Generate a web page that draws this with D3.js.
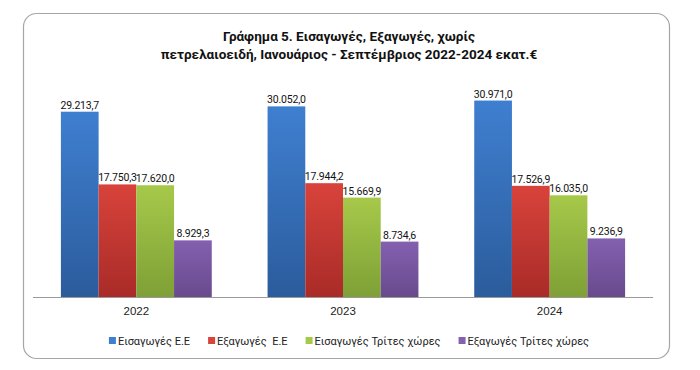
<!DOCTYPE html>
<html>
<head>
<meta charset="utf-8">
<script src="https://cdn.jsdelivr.net/npm/d3@7/dist/d3.min.js"></script>
<style>
  html, body { margin: 0; padding: 0; background: #fff; }
  svg { display: block; font-family: Roboto, 'Open Sans', sans-serif; }
  .title { font-weight: bold; font-size: 13.5px; fill: #111; }
  .val { font-size: 10.5px; fill: #111; letter-spacing: -0.2px; }
  .year { font-size: 11.5px; fill: #222; }
  .leg { font-size: 11px; fill: #222; white-space: pre; }
</style>
</head>
<body>
<svg id="chart" width="700" height="370"></svg>
<script>
// DATA
const years = ['2022', '2023', '2024'];
const seriesNames = ['Εισαγωγές Ε.Ε', 'Εξαγωγές  Ε.Ε', 'Εισαγωγές Τρίτες χώρες', 'Εξαγωγές Τρίτες χώρες'];
const importsEU = [29213.7, 30052.0, 30971.0];
const exportsEU = [17750.3, 17944.2, 17526.9];
const importsThird = [17620.0, 15669.9, 16035.0];
const exportsThird = [8929.3, 8734.6, 9236.9];
const titleLines = ['Γράφημα 5. Εισαγωγές, Εξαγωγές, χωρίς', 'πετρελαιοειδή, Ιανουάριος - Σεπτέμβριος 2022-2024 εκατ.€'];

const seriesValues = [importsEU, exportsEU, importsThird, exportsThird];
const colors = [
  ['#3f7fd0', '#2b5c9c'],
  ['#d8433b', '#a92b28'],
  ['#a6c94a', '#7ea036'],
  ['#8460b0', '#684a8c']
];

// SETUP
const svg = d3.select('svg');
const margin = { top: 75, left: 33, right: 47, bottom: 73 };
const width = 700, height = 370;

// frame
svg.append('rect')
  .attr('x', 23.5).attr('y', 13.5)
  .attr('width', 646).attr('height', 345)
  .attr('rx', 13).attr('ry', 13)
  .attr('fill', '#fff')
  .attr('stroke', '#a6a6a6')
  .attr('stroke-width', 1.2);

// TITLE
svg.selectAll('.title')
  .data(titleLines)
  .enter()
  .append('text')
  .attr('class', 'title')
  .attr('x', 349)
  .attr('y', (d, i) => 41 + i * 18)
  .attr('text-anchor', 'middle')
  .text(d => d);

// GRADIENTS
const defs = svg.append('defs');
colors.forEach((c, i) => {
  const g = defs.append('linearGradient')
    .attr('id', 'grad' + i)
    .attr('x1', 0).attr('y1', 0).attr('x2', 0).attr('y2', 1);
  g.append('stop').attr('offset', '0%').attr('stop-color', c[0]);
  g.append('stop').attr('offset', '100%').attr('stop-color', c[1]);
});

// SCALES
const x0 = d3.scaleBand()
  .domain(years)
  .range([margin.left, width - margin.right])
  .paddingInner(0.27)
  .paddingOuter(0.135);
const x1 = d3.scaleBand()
  .domain(d3.range(seriesNames.length))
  .range([0, x0.bandwidth()]);
const y = d3.scaleLinear()
  .domain([0, 35000])
  .range([height - margin.bottom, margin.top]);

const fmt = v => d3.format(',.1f')(v).replace(/,/g, '#').replace('.', ',').replace(/#/g, '.');

// BARS
const groups = svg.selectAll('.grp')
  .data(years)
  .enter()
  .append('g')
  .attr('class', 'grp')
  .attr('transform', d => 'translate(' + x0(d) + ',0)');

groups.selectAll('rect')
  .data((d, yi) => seriesValues.map((s, si) => ({ si: si, value: s[yi] })))
  .enter()
  .append('rect')
  .attr('x', d => x1(d.si))
  .attr('y', d => y(d.value))
  .attr('width', x1.bandwidth())
  .attr('height', d => y(0) - y(d.value))
  .attr('fill', d => 'url(#grad' + d.si + ')');

groups.selectAll('.val')
  .data((d, yi) => seriesValues.map((s, si) => ({ si: si, value: s[yi] })))
  .enter()
  .append('text')
  .attr('class', 'val')
  .attr('x', d => x1(d.si) + x1.bandwidth() / 2)
  .attr('y', d => y(d.value) - 3)
  .attr('text-anchor', 'middle')
  .text(d => fmt(d.value));

// X AXIS
const xAxis = svg.append('g')
  .attr('transform', 'translate(0,' + y(0) + ')')
  .call(d3.axisBottom(x0).tickSize(0).tickPadding(10));
xAxis.select('.domain').attr('stroke', '#9a9a9a').attr('d', 'M' + margin.left + ',0.5H' + (width - margin.right));
xAxis.selectAll('text').attr('class', 'year').attr('font-family', null).attr('font-size', null).attr('fill', null);

// LEGEND
const legend = svg.append('g').attr('transform', 'translate(0,341)');
const items = legend.selectAll('.item')
  .data(seriesNames)
  .enter()
  .append('g')
  .attr('class', 'item');
items.append('rect')
  .attr('width', 7).attr('height', 7)
  .attr('y', -4)
  .attr('fill', (d, i) => colors[i][0]);
items.append('text')
  .attr('class', 'leg')
  .attr('x', 9)
  .attr('y', 4)
  .text(d => d);

let widths = [];
items.each(function () { widths.push(this.getBBox().width); });
const gap = 18;
const total = d3.sum(widths) + gap * (widths.length - 1);
let cx = 349 - total / 2;
items.attr('transform', (d, i) => {
  const t = 'translate(' + cx + ',0)';
  cx += widths[i] + gap;
  return t;
});
</script>
</body>
</html>
